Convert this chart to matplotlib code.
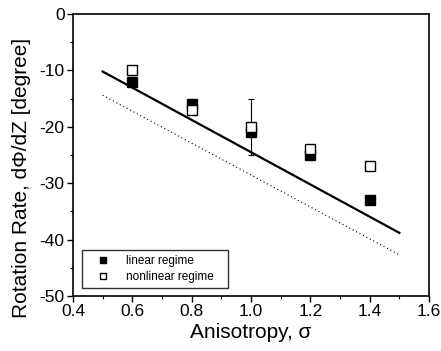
import matplotlib
matplotlib.use("Agg")
import matplotlib.pyplot as plt
from matplotlib.ticker import MultipleLocator

plt.rcParams['font.family'] = ['Liberation Sans', 'DejaVu Sans']
plt.rcParams['axes.unicode_minus'] = False

sigma = [0.6, 0.8, 1.0, 1.2, 1.4]
linear_vals = [-12, -16, -21, -25, -33]
nonlinear_vals = [-10, -17, -20, -24, -27]
err_x = [1.0]
err_y = [-20]
err_size = [5]
solid_x = [0.5, 1.5]
solid_y = [-10.2, -38.8]
dotted_x = [0.5, 1.5]
dotted_y = [-14.4, -42.7]

fig = plt.figure(figsize=(4.41, 3.51), dpi=100)
ax = fig.add_axes([73/441, 1 - 296/351, (429-73)/441, (296-14)/351])

ax.plot(solid_x, solid_y, color='black', lw=1.6)
ax.plot(dotted_x, dotted_y, color='black', lw=0.8, ls=(0, (1, 2.5)))
ax.errorbar(err_x, err_y, yerr=err_size, fmt='none', ecolor='black', elinewidth=0.8, capsize=2, capthick=0.8)
ax.plot(sigma, linear_vals, 's', color='black', ms=6.5, label='linear regime')
ax.plot(sigma, nonlinear_vals, 's', mfc='white', mec='black', mew=1.0, ms=6.5, label='nonlinear regime')

ax.set_xlim(0.4, 1.6)
ax.set_ylim(-50, 0)
ax.xaxis.set_major_locator(MultipleLocator(0.2))
ax.xaxis.set_minor_locator(MultipleLocator(0.1))
ax.yaxis.set_major_locator(MultipleLocator(10))
ax.yaxis.set_minor_locator(MultipleLocator(5))
ax.tick_params(which='major', direction='out', length=4, width=1.0, labelsize=12.5, pad=2)
ax.tick_params(which='minor', direction='out', length=2, width=0.8)
for s in ax.spines.values():
    s.set_linewidth(1.2)

ax.set_xlabel('Anisotropy, σ', fontsize=15, labelpad=3)
ax.set_ylabel('Rotation Rate, dΦ/dZ [degree]', fontsize=15)
ax.yaxis.set_label_coords(-0.118, 0.42)
ax.set_xticklabels([f'{v:.1f}' for v in ax.get_xticks()])

leg = ax.legend(loc='lower left', fontsize=8.5, frameon=True, fancybox=False,
                edgecolor='black', handlelength=2.6, borderpad=0.45, handletextpad=0.7,
                labelspacing=0.3, markerscale=0.6, mode='expand', borderaxespad=0,
                bbox_to_anchor=(0.025, 0.028, 0.41, 0.13))
leg.get_frame().set_linewidth(1.0)

fig.savefig('out.png', dpi=100)
